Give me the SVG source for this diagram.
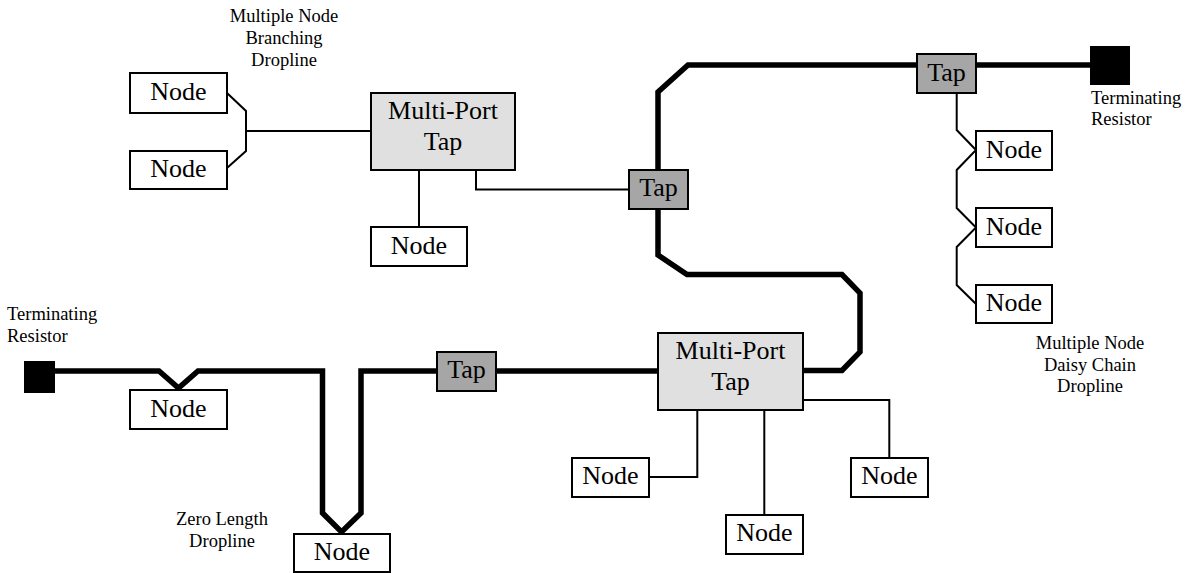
<svg xmlns="http://www.w3.org/2000/svg" width="1186" height="573" viewBox="0 0 1186 573">
<style>
.box{fill:#fff;stroke:#000;stroke-width:2}
.mpt{fill:#e0e0e0;stroke:#000;stroke-width:2}
.tap{fill:#a6a6a6;stroke:#000;stroke-width:2}
.term{fill:#000}
.trunk{fill:none;stroke:#000;stroke-width:5.5;stroke-linejoin:miter}
.drop{fill:none;stroke:#000;stroke-width:2}
.t{font-family:"Liberation Serif","Times New Roman",serif;font-size:26px;text-anchor:middle;fill:#000}
.lbl{font-family:"Liberation Serif","Times New Roman",serif;font-size:18.5px;fill:#000}
.c{text-anchor:middle}
</style>
<rect width="1186" height="573" fill="#fff"/>
<g id="connectors">
<path class="trunk" d="M1090,65 H688 L658,92 V255 L687,274.5 H842 L860,293 V352 L842,370.5 H803"/>
<path class="trunk" d="M658,371 H361 V513 L341.5,532 L322.5,513 V371 H198 L178.5,388 L159,371 H55"/>
<path class="drop" d="M227,93 L246,111 V151 L227,168 M246,131 H371"/>
<path class="drop" d="M419,170 V227 M476,170 V189.5 H629"/>
<path class="drop" d="M956.7,93 V130 L976,150 L956.7,170 V208 L976,227.5 L956.7,247 V285 L976,304"/>
<path class="drop" d="M697.3,410 V477 H649 M764.3,410 V515 M803,400 H889.3 V458"/>
</g>
<g id="label-branching"><text class="lbl c" x="284" y="22">Multiple Node</text><text class="lbl c" x="284" y="44">Branching</text><text class="lbl c" x="284" y="66">Dropline</text></g>
<g id="label-daisy"><text class="lbl c" x="1090" y="349">Multiple Node</text><text class="lbl c" x="1090" y="371">Daisy Chain</text><text class="lbl c" x="1090" y="392">Dropline</text></g>
<g id="label-zero"><text class="lbl c" x="222" y="525">Zero Length</text><text class="lbl c" x="222" y="547">Dropline</text></g>
<g id="term-right"><rect class="term" x="1090" y="46" width="40" height="39"/><text class="lbl" x="1091" y="104">Terminating</text><text class="lbl" x="1091" y="125">Resistor</text></g>
<g id="term-left"><rect class="term" x="24" y="361" width="31" height="32"/><text class="lbl" x="7" y="320">Terminating</text><text class="lbl" x="7" y="342">Resistor</text></g>
<g id="node-b1"><rect class="box" x="130" y="73" width="97" height="40"/><text class="t" x="178.5" y="100">Node</text></g>
<g id="node-b2"><rect class="box" x="130" y="151" width="97" height="38"/><text class="t" x="178.5" y="177">Node</text></g>
<g id="mpt1"><rect class="mpt" x="371" y="93" width="144" height="77"/><text class="t" x="443" y="119">Multi-Port</text><text class="t" x="443" y="150">Tap</text></g>
<g id="node-mpt1"><rect class="box" x="371" y="227" width="96" height="39"/><text class="t" x="419" y="253.5">Node</text></g>
<g id="tap1"><rect class="tap" x="629" y="170" width="59" height="39"/><text class="t" x="658.5" y="196">Tap</text></g>
<g id="tap-top"><rect class="tap" x="917" y="54" width="59" height="39"/><text class="t" x="946.5" y="80.5">Tap</text></g>
<g id="node-dc1"><rect class="box" x="976" y="131" width="76" height="39"/><text class="t" x="1014" y="157.5">Node</text></g>
<g id="node-dc2"><rect class="box" x="976" y="208" width="76" height="39"/><text class="t" x="1014" y="234.5">Node</text></g>
<g id="node-dc3"><rect class="box" x="976" y="285" width="76" height="38"/><text class="t" x="1014" y="311">Node</text></g>
<g id="node-z1"><rect class="box" x="130" y="390" width="97" height="39"/><text class="t" x="178.5" y="416.5">Node</text></g>
<g id="node-z2"><rect class="box" x="294" y="534" width="96" height="38"/><text class="t" x="342" y="560">Node</text></g>
<g id="tap2"><rect class="tap" x="437" y="352" width="59" height="39"/><text class="t" x="466.5" y="378">Tap</text></g>
<g id="mpt2"><rect class="mpt" x="658" y="333" width="145" height="77"/><text class="t" x="730.5" y="359">Multi-Port</text><text class="t" x="730.5" y="390">Tap</text></g>
<g id="node-l"><rect class="box" x="572" y="458" width="77" height="39"/><text class="t" x="610.5" y="484">Node</text></g>
<g id="node-m"><rect class="box" x="726" y="515" width="77" height="39"/><text class="t" x="764.5" y="541">Node</text></g>
<g id="node-r"><rect class="box" x="851" y="458" width="77" height="39"/><text class="t" x="889.5" y="484">Node</text></g>
</svg>
